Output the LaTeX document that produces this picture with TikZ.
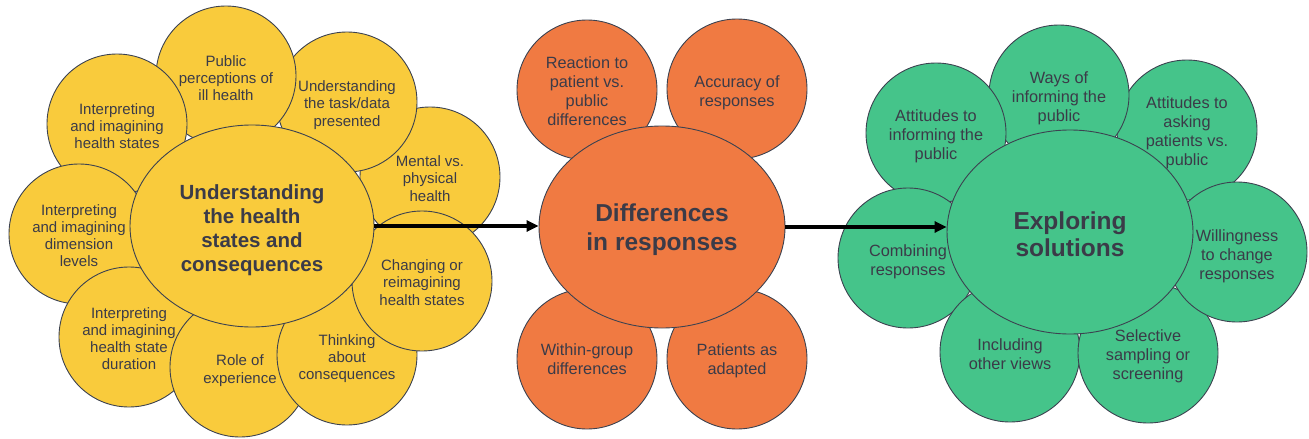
\documentclass[tikz,border=0pt]{standalone}
\usepackage{fontspec}
\setmainfont{Liberation Sans}
\usetikzlibrary{shapes.geometric,arrows.meta}
\definecolor{cyel}{HTML}{F9CB3C}
\definecolor{cora}{HTML}{F07A42}
\definecolor{cgrn}{HTML}{45C48A}
\definecolor{ctxt}{HTML}{3B3B48}
\definecolor{cline}{HTML}{3C4250}
\newcommand{\shifted}[2]{\raisebox{#1}[\height][\depth]{\begin{tabular}{@{}c@{}}#2\end{tabular}}}
\tikzset{
 petal/.style={circle, draw=cline, line width=0.9pt, minimum size=140pt, inner sep=0pt, align=center, text=ctxt},
 lpetal/.style={petal, fill=cyel, font=\fontsize{15}{17.3}\selectfont},
 mpetal/.style={petal, fill=cora, font=\fontsize{16.3}{19}\selectfont},
 rpetal/.style={petal, fill=cgrn, font=\fontsize{16.3}{19}\selectfont},
 core/.style={ellipse, draw=cline, line width=0.9pt, minimum width=246pt, minimum height=202pt, inner sep=0pt, align=center, text=ctxt, font=\bfseries\fontsize{24.5}{29.5}\selectfont},
 flow/.style={line width=3.5pt, -{Triangle[length=12pt,width=11pt]}},
}
\begin{document}
\begin{tikzpicture}[x=1pt,y=-1pt]
\path[use as bounding box] (0,0) rectangle (1309,439);
% left cluster
\node[lpetal] (mental) at (430,177) {\shifted{-3.5pt}{Mental vs.\\physical\\health}};
\node[lpetal] (task) at (347,102) {\shifted{-3.5pt}{Understanding\\the task/data\\presented}};
\node[lpetal] (public) at (226,76) {\shifted{-4pt}{Public\\perceptions of\\ill health}};
\node[lpetal] (hstates) at (117,124) {\shifted{-4pt}{Interpreting\\and imagining\\health states}};
\node[lpetal] (dimension) at (79,234) {\shifted{-3.5pt}{Interpreting\\and imagining\\dimension\\levels}};
\node[lpetal] (duration) at (129,337) {\shifted{-3.5pt}{Interpreting\\and imagining\\health state\\duration}};
\node[lpetal] (role) at (240,367) {\shifted{-4pt}{Role of\\experience}};
\node[lpetal] (thinking) at (347,355) {\shifted{-4pt}{Thinking\\about\\consequences}};
\node[lpetal] (changing) at (422,281) {\shifted{-3.5pt}{Changing or\\reimagining\\health states}};
\node[core, fill=cyel, minimum width=244pt, font=\bfseries\fontsize{20.5}{24}\selectfont] (L) at (252,226) {\shifted{-5pt}{Understanding\\the health\\states and\\consequences}};
% middle cluster
\node[mpetal] (reaction) at (587,90) {\shifted{-3pt}{Reaction to\\patient vs.\\public\\differences}};
\node[mpetal] (accuracy) at (737,89) {\shifted{-4pt}{Accuracy of\\responses}};
\node[mpetal] (within) at (587,359) {\shifted{-2.5pt}{Within-group\\differences}};
\node[mpetal] (patients) at (737,359) {\shifted{-2.5pt}{Patients as\\adapted}};
\node[core, fill=cora] (M) at (662,227) {\shifted{-3pt}{Differences\\in responses}};
% right cluster
\node[rpetal] (asking) at (1187,130) {\shifted{-3.5pt}{Attitudes to\\asking\\patients vs.\\public}};
\node[rpetal] (ways) at (1059,95) {\shifted{-3.5pt}{Ways of\\informing the\\public}};
\node[rpetal] (informing) at (936,133) {\shifted{-4pt}{Attitudes to\\informing the\\public}};
\node[rpetal] (combining) at (908,258) {\shifted{-4pt}{Combining\\responses}};
\node[rpetal] (including) at (1010,352) {\shifted{-4pt}{Including\\other views}};
\node[rpetal] (selective) at (1148,353) {\shifted{-4pt}{Selective\\sampling or\\screening}};
\node[rpetal] (willing) at (1237,252) {\shifted{-4.5pt}{Willingness\\to change\\responses}};
\node[core, fill=cgrn, minimum height=204pt, font=\bfseries\fontsize{24.5}{27}\selectfont] (R) at (1070,232) {\shifted{-6pt}{Exploring\\solutions}};
% arrows
\draw[flow] (L.east) -- (M.west |- L.east);
\draw[flow] (M.east) -- (R.west |- M.east);
\end{tikzpicture}
\end{document}
